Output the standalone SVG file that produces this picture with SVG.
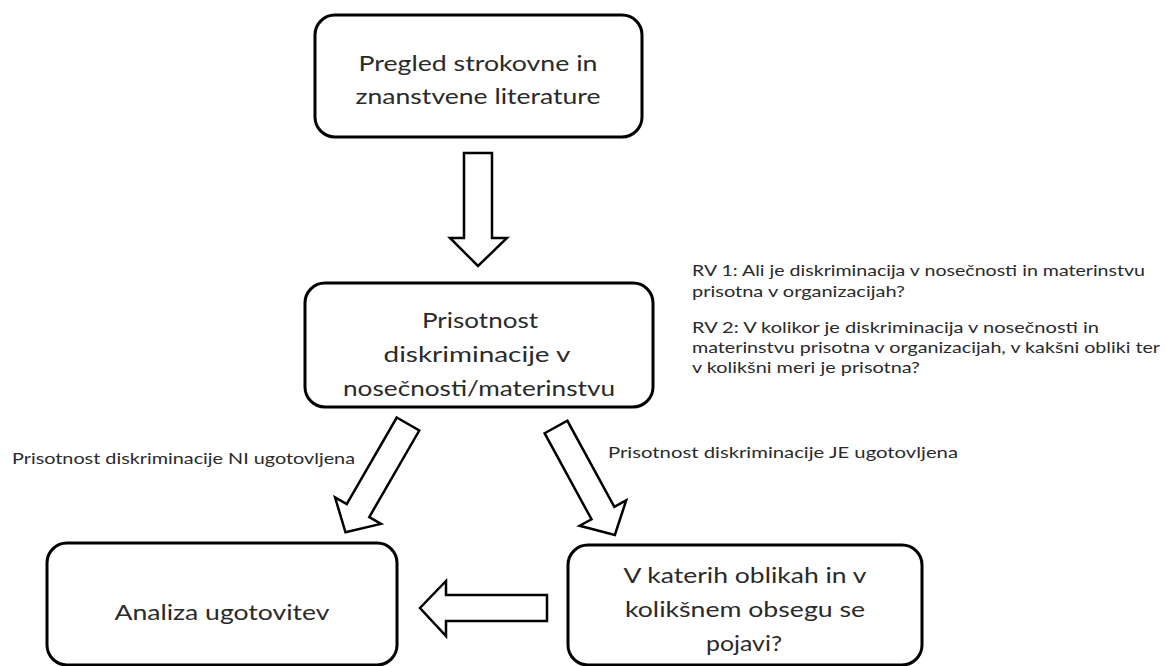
<svg xmlns="http://www.w3.org/2000/svg" width="1165" height="666" viewBox="0 0 1165 666">
<style>
.box{fill:#fff;stroke:#000;stroke-width:3}
.arr{fill:#fff;stroke:#000;stroke-width:2.5;stroke-linejoin:miter}
.t{font-family:Lato,"Open Sans","Liberation Sans",sans-serif;font-size:22px;fill:#2a2a2a;text-anchor:middle}
.s{font-family:Lato,"Open Sans","Liberation Sans",sans-serif;font-size:15px;fill:#2a2a2a}
</style>
<rect width="1165" height="666" fill="#fff"/>
<g id="connectors">
<polygon class="arr" points="464,153 492,153 492,238 507,238 478,266 450,238 464,238"/>
<polygon class="arr" transform="translate(408,424) rotate(30)" points="-13,0 13,0 13,100 26.5,100 0,125 -26.5,100 -13,100"/>
<polygon class="arr" transform="translate(556,427) rotate(-28.6)" points="-13,0 13,0 13,98 26.5,98 0,123 -26.5,98 -13,98"/>
<polygon class="arr" points="547,595 547,621 446,621 446,636 420,608 446,581 446,595"/>
<text class="s" x="12" y="464" textLength="343" lengthAdjust="spacingAndGlyphs">Prisotnost diskriminacije NI ugotovljena</text>
<text class="s" x="608" y="458" textLength="350" lengthAdjust="spacingAndGlyphs">Prisotnost diskriminacije JE ugotovljena</text>
</g>
<g id="node-pregled">
<rect class="box" x="315" y="15" width="327" height="122" rx="20"/>
<text class="t" x="478" y="71" textLength="239" lengthAdjust="spacingAndGlyphs">Pregled strokovne in</text>
<text class="t" x="478" y="104" textLength="245" lengthAdjust="spacingAndGlyphs">znanstvene literature</text>
</g>
<g id="node-prisotnost">
<rect class="box" x="305" y="283" width="348" height="124" rx="20"/>
<text class="t" x="480" y="328" textLength="116" lengthAdjust="spacingAndGlyphs">Prisotnost</text>
<text class="t" x="477" y="362" textLength="187" lengthAdjust="spacingAndGlyphs">diskriminacije v</text>
<text class="t" x="479" y="396" textLength="272" lengthAdjust="spacingAndGlyphs">nosečnosti/materinstvu</text>
</g>
<g id="node-rv">
<text class="s" x="692" y="276" textLength="453" lengthAdjust="spacingAndGlyphs">RV 1: Ali je diskriminacija v nosečnosti in materinstvu</text>
<text class="s" x="692" y="297" textLength="213" lengthAdjust="spacingAndGlyphs">prisotna v organizacijah?</text>
<text class="s" x="692" y="333" textLength="407" lengthAdjust="spacingAndGlyphs">RV 2: V kolikor je diskriminacija v nosečnosti in</text>
<text class="s" x="692" y="353" textLength="468" lengthAdjust="spacingAndGlyphs">materinstvu prisotna v organizacijah, v kakšni obliki ter</text>
<text class="s" x="692" y="373" textLength="228" lengthAdjust="spacingAndGlyphs">v kolikšni meri je prisotna?</text>
</g>
<g id="node-analiza">
<rect class="box" x="47" y="543" width="350" height="122" rx="20"/>
<text class="t" x="222" y="620" textLength="215" lengthAdjust="spacingAndGlyphs">Analiza ugotovitev</text>
</g>
<g id="node-oblike">
<rect class="box" x="568" y="545" width="354" height="120" rx="20"/>
<text class="t" x="745" y="583" textLength="243" lengthAdjust="spacingAndGlyphs">V katerih oblikah in v</text>
<text class="t" x="745" y="617" textLength="240" lengthAdjust="spacingAndGlyphs">kolikšnem obsegu se</text>
<text class="t" x="744" y="651" textLength="76" lengthAdjust="spacingAndGlyphs">pojavi?</text>
</g>
</svg>
